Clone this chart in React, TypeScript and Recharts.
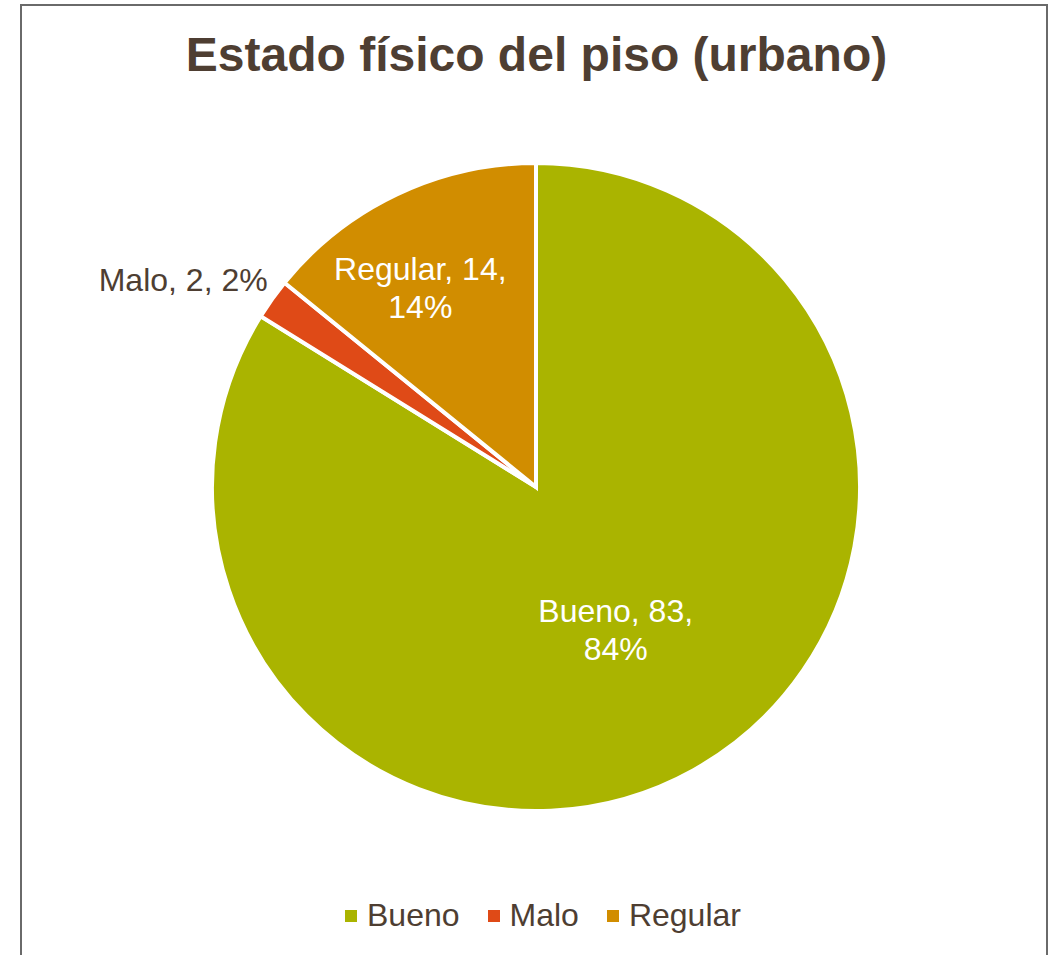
import { PieChart, Pie, Cell, Legend } from "recharts"

const categories = ["Bueno", "Malo", "Regular"]
const values = [83, 2, 14]
const colors = ["#aab400", "#df4a17", "#d18d00"]

const TITLE = "Estado físico del piso (urbano)"
const TEXT = "#4e3e32"
const FONT = "'Liberation Sans', Arial, sans-serif"
const RAD = Math.PI / 180

const data = categories.map((name, i) => ({ name, value: values[i] }))

// where Excel put each data label (radius factor, extra x shift)
const labelPlace: Record<string, { k: number; dx: number; inside: boolean }> = {
  Bueno: { k: 0.506, dx: 0, inside: true },
  Malo: { k: 1.1, dx: 22, inside: false },
  Regular: { k: 0.68, dx: -21, inside: true },
}

function renderLabel(props: any) {
  const { cx, cy, midAngle, outerRadius, name, value, percent } = props
  const p = labelPlace[name]
  const r = outerRadius * p.k
  const x = cx + r * Math.cos(-midAngle * RAD) + p.dx
  const y = cy + r * Math.sin(-midAngle * RAD)
  const pct = Math.round(percent * 100) + "%"
  if (!p.inside) {
    return (
      <text x={x} y={y} fill={TEXT} fontSize={32} fontFamily={FONT} textAnchor="end" dominantBaseline="central">
        {`${name}, ${value}, ${pct}`}
      </text>
    )
  }
  return (
    <text x={x} y={y - 19} fill="#ffffff" fontSize={32} fontFamily={FONT} textAnchor="middle" dominantBaseline="central">
      <tspan x={x} dy={0}>{`${name}, ${value},`}</tspan>
      <tspan x={x} dy={38}>{pct}</tspan>
    </text>
  )
}

function renderLegend(props: any) {
  const items = props.payload || []
  return (
    <div style={{ display: "flex", justifyContent: "center", alignItems: "center", fontFamily: FONT, fontSize: 32, color: TEXT }}>
      {items.map((it: any, i: number) => (
        <div key={i} style={{ display: "flex", alignItems: "center", marginLeft: i === 0 ? 0 : 28 }}>
          <span style={{ width: 12, height: 12, background: it.color, display: "inline-block", marginRight: 10 }} />
          <span>{it.value}</span>
        </div>
      ))}
    </div>
  )
}

export default function App() {
  return (
    <div style={{ position: "absolute", left: 0, top: 0, width: 1058, height: 955, background: "#fff", overflow: "hidden" }}>
      <div
        style={{
          position: "absolute",
          left: 20,
          top: 4,
          width: 1028,
          height: 1000,
          border: "2px solid #6a6a6a",
          boxSizing: "border-box",
        }}
      />
      <div
        style={{
          position: "absolute",
          left: 0,
          top: 27,
          width: 1073,
          textAlign: "center",
          fontFamily: FONT,
          fontWeight: "bold",
          fontSize: 48,
          color: TEXT,
          lineHeight: "56px",
        }}
      >
        {TITLE}
      </div>
      <div style={{ position: "absolute", left: 0, top: 0 }}>
        <PieChart width={1058} height={955}>
          <Pie
            data={data}
            dataKey="value"
            nameKey="name"
            cx={531}
            cy={482}
            outerRadius={324}
            startAngle={90}
            endAngle={-270}
            stroke="#ffffff"
            strokeWidth={4}
            label={renderLabel}
            labelLine={false}
            isAnimationActive={false}
          >
            {data.map((d, i) => (
              <Cell key={d.name} fill={colors[i]} />
            ))}
          </Pie>
          <Legend
            content={renderLegend}
            layout="horizontal"
            verticalAlign="bottom"
            align="center"
            wrapperStyle={{ left: 14, width: 1058, bottom: 21 }}
          />
        </PieChart>
      </div>
    </div>
  )
}
